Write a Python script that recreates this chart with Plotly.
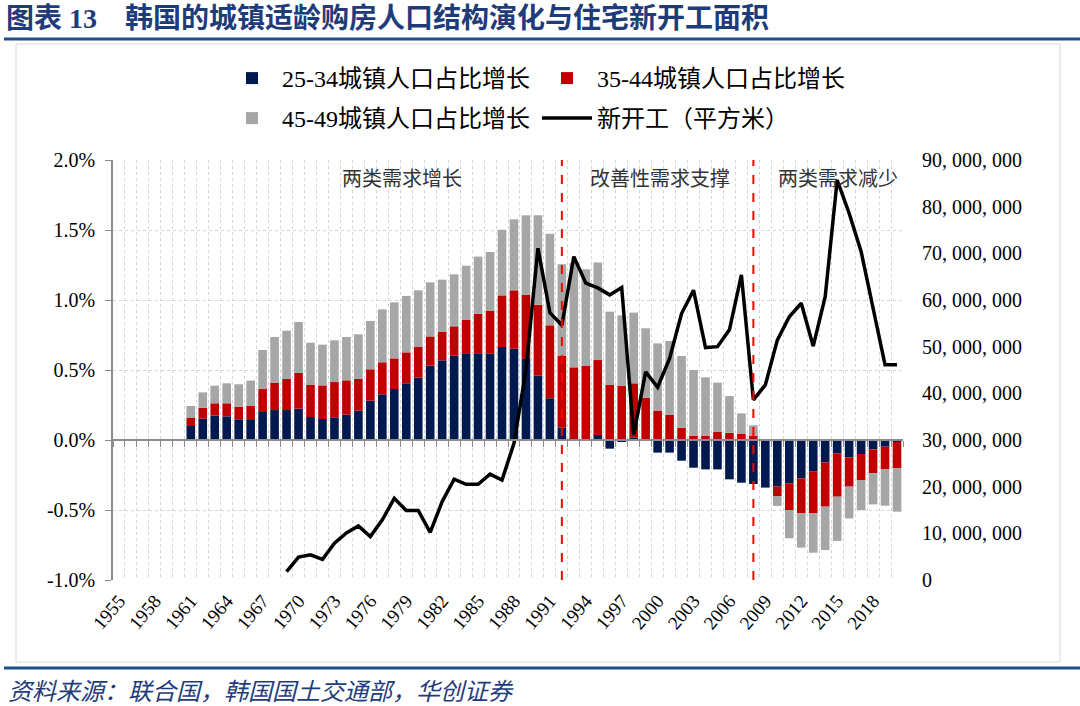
import plotly.graph_objects as go

# ---------------- data ----------------
years = list(range(1955, 2021))
pad = [None] * 6  # 1955-1960 no bars

share_25_34 = pad + [
    0.100, 0.152, 0.174, 0.169, 0.148, 0.143, 0.200, 0.214, 0.214, 0.224,   # 1961-1970
    0.164, 0.150, 0.162, 0.181, 0.210, 0.281, 0.326, 0.364, 0.405, 0.445,   # 1971-1980
    0.531, 0.569, 0.602, 0.619, 0.619, 0.617, 0.664, 0.652, 0.579, 0.460,   # 1981-1990
    0.298, 0.090, 0.008, 0.005, 0.036, -0.062, -0.010, 0.019, -0.005, -0.090,  # 1991-2000
    -0.090, -0.148, -0.198, -0.210, -0.210, -0.281, -0.305, -0.314, -0.340, -0.333,  # 2001-2010
    -0.310, -0.274, -0.226, -0.160, -0.095, -0.124, -0.100, -0.067, -0.048, -0.014,  # 2011-2020
]
share_35_44 = pad + [
    0.060, 0.079, 0.088, 0.093, 0.090, 0.100, 0.164, 0.196, 0.222, 0.255,
    0.229, 0.240, 0.252, 0.245, 0.226, 0.224, 0.229, 0.219, 0.221, 0.222,
    0.209, 0.205, 0.210, 0.241, 0.283, 0.307, 0.369, 0.417, 0.459, 0.507,
    0.521, 0.512, 0.511, 0.524, 0.535, 0.393, 0.386, 0.386, 0.302, 0.210,
    0.179, 0.088, 0.029, 0.029, 0.057, 0.052, 0.043, 0.030, 0.000, -0.067,
    -0.190, -0.250, -0.298, -0.316, -0.310, -0.209, -0.186, -0.171, -0.162, -0.188,
]
share_45_49 = pad + [
    0.083, 0.109, 0.126, 0.143, 0.160, 0.181, 0.279, 0.326, 0.345, 0.364,
    0.302, 0.291, 0.298, 0.310, 0.319, 0.345, 0.378, 0.400, 0.403, 0.402,
    0.386, 0.371, 0.371, 0.385, 0.408, 0.419, 0.469, 0.507, 0.567, 0.638,
    0.655, 0.653, 0.745, 0.690, 0.696, 0.524, 0.504, 0.505, 0.496, 0.480,
    0.528, 0.512, 0.471, 0.419, 0.353, 0.262, 0.147, 0.075, 0.000, -0.071,
    -0.202, -0.245, -0.281, -0.310, -0.316, -0.227, -0.214, -0.222, -0.259, -0.310,
]
new_starts = [None] * 14 + [
    1.8e6, 4.9e6, 5.4e6, 4.4e6, 7.9e6, 10.1e6, 11.6e6, 9.3e6, 12.9e6, 17.5e6,   # 1969-1978
    14.9e6, 14.9e6, 10.2e6, 16.8e6, 21.6e6, 20.5e6, 20.5e6, 22.7e6, 21.4e6, 29.3e6,  # 1979-1988
    45.0e6, 71.1e6, 57.3e6, 54.6e6, 69.3e6, 63.6e6, 62.6e6, 61.1e6, 62.7e6, 31.1e6,  # 1989-1998
    44.6e6, 41.3e6, 47.5e6, 57.1e6, 62.1e6, 49.8e6, 50.0e6, 53.6e6, 65.4e6, 38.6e6,  # 1999-2008
    41.8e6, 51.4e6, 56.4e6, 59.3e6, 50.1e6, 60.7e6, 85.7e6, 78.6e6, 70.4e6, 58.6e6,  # 2009-2018
    46.1e6, 46.1e6,  # 2019-2020
]

series_names = ["25-34城镇人口占比增长", "35-44城镇人口占比增长", "45-49城镇人口占比增长", "新开工（平方米）"]
x_tick_years = list(range(1955, 2019, 3))
left_ticks = [-1.0, -0.5, 0.0, 0.5, 1.0, 1.5, 2.0]
left_ticktext = ["-1.0%", "-0.5%", "0.0%", "0.5%", "1.0%", "1.5%", "2.0%"]
right_ticks = [i * 10_000_000 for i in range(10)]
right_ticktext = ["0", "10, 000, 000", "20, 000, 000", "30, 000, 000", "40, 000, 000",
                  "50, 000, 000", "60, 000, 000", "70, 000, 000", "80, 000, 000", "90, 000, 000"]
phase_breaks = [1992, 2008]
phase_labels = ["两类需求增长", "改善性需求支撑", "两类需求减少"]
title_text = "图表 13　韩国的城镇适龄购房人口结构演化与住宅新开工面积"
source_text = "资料来源：联合国，韩国国土交通部，华创证券"

# ---------------- styling ----------------
FONT = "Liberation Serif, Noto Sans CJK SC, serif"
CJK = "Noto Sans CJK SC, Liberation Serif"
NAVY, RED, GREY = "#00194F", "#C00000", "#A6A6A6"
AXC = "#8C8C8C"
GRIDC = "#D4D4D4"

W, H = 1080, 706
L, R, T, B = 113, 177, 160, 126
pw, ph = W - L - R, H - T - B

def px(xp):
    return (xp - L) / pw

def py(yp):
    return (H - B - yp) / ph

fig = go.Figure()
bar_cols = [NAVY, RED, GREY]
for vals, name, col, lg in zip([share_25_34, share_35_44, share_45_49], series_names[:3],
                               bar_cols, ["legend", "legend", "legend2"]):
    fig.add_trace(go.Bar(x=years, y=vals, name=name, marker=dict(color=col, line=dict(width=0)),
                         legend=lg))

fig.add_trace(go.Scatter(x=years, y=new_starts, name=series_names[3], mode="lines",
                         line=dict(color="black", width=3.5), xaxis="x2", yaxis="y2",
                         legend="legend2", connectgaps=False))

xr = [years[0] - 0.5, years[-1] + 0.5]
boundaries = [y - 0.5 for y in years] + [years[-1] + 0.5]

legend_common = dict(orientation="h", xanchor="left", yanchor="top",
                     font=dict(size=24, family=FONT), itemwidth=50, entrywidth=250,
                     bgcolor="rgba(0,0,0,0)", traceorder="normal")

fig.update_layout(
    width=W, height=H,
    margin=dict(l=L, r=R, t=T, b=B),
    paper_bgcolor="white", plot_bgcolor="white",
    barmode="relative", bargap=0.28,
    font=dict(family=FONT, color="black", size=17),
    xaxis=dict(range=xr, tickmode="array", tickvals=x_tick_years,
               ticktext=[str(v) for v in x_tick_years], tickangle=-50,
               showgrid=False, showline=False, zeroline=False, ticks="",
               tickfont=dict(size=19, family=FONT), ticklabelstandoff=5),
    xaxis2=dict(range=xr, overlaying="x", anchor="free", position=1 / 3,
                tickmode="array", tickvals=boundaries, showticklabels=False,
                ticks="outside", ticklen=6, tickcolor=AXC, tickwidth=1.3,
                showline=True, linecolor=AXC, linewidth=1.5,
                showgrid=True, gridcolor=GRIDC, griddash="dot", gridwidth=1,
                zeroline=False),
    yaxis=dict(range=[-1.0, 2.0], tickmode="array", tickvals=left_ticks, ticktext=left_ticktext,
               showgrid=True, gridcolor=GRIDC, griddash="dot", gridwidth=1,
               showline=True, linecolor=AXC, linewidth=1.5, ticks="outside", ticklen=6,
               tickcolor=AXC, zeroline=False, tickfont=dict(size=20, family=FONT),
               ticklabelstandoff=6),
    yaxis2=dict(range=[0, 90_000_000], overlaying="y", side="right", tickmode="array",
                tickvals=right_ticks, ticktext=right_ticktext, showgrid=False,
                showline=False, zeroline=False, ticks="",
                tickfont=dict(size=20, family=FONT), ticklabelstandoff=18),
    legend=dict(x=px(222), y=py(56), **legend_common),
    legend2=dict(x=px(222), y=py(96), **legend_common),
    showlegend=True,
)

shapes = []
for xb in phase_breaks:
    shapes.append(dict(type="line", xref="x", yref="paper", x0=xb, x1=xb, y0=0, y1=1,
                       line=dict(color="#FF0000", width=2, dash="dash"), layer="above"))
# header / footer rules and frame
shapes.append(dict(type="rect", xref="paper", yref="paper", x0=px(16), x1=px(1060),
                   y0=py(662), y1=py(44), line=dict(color="#D9D9D9", width=1), layer="below"))
shapes.append(dict(type="line", xref="paper", yref="paper", x0=px(4), x1=px(1080),
                   y0=py(39), y1=py(39), line=dict(color="#1F4E8C", width=3)))
shapes.append(dict(type="line", xref="paper", yref="paper", x0=px(4), x1=px(1080),
                   y0=py(668), y1=py(668), line=dict(color="#1F4E8C", width=3)))
fig.update_layout(shapes=shapes)

ann = []
for lab, xc in zip(phase_labels, [402, 660, 838]):
    ann.append(dict(text=lab, xref="paper", yref="paper", x=px(xc), y=py(178), showarrow=False,
                    xanchor="center", yanchor="middle", font=dict(size=20, family=CJK, color="#333333")))
ann.append(dict(text="<b>" + title_text + "</b>", xref="paper", yref="paper", x=px(4), y=py(18),
                showarrow=False, xanchor="left", yanchor="middle",
                font=dict(size=28, family=FONT, color="#1F3C7A")))
ann.append(dict(text=source_text, xref="paper", yref="paper", x=px(6), y=py(689),
                showarrow=False, xanchor="left", yanchor="middle",
                font=dict(size=24, family=CJK, color="#1F3C7A", style="italic")))
fig.update_layout(annotations=ann)

fig.write_html("out.html", post_script="document.body.style.margin='0';",
               config={"displayModeBar": False})
